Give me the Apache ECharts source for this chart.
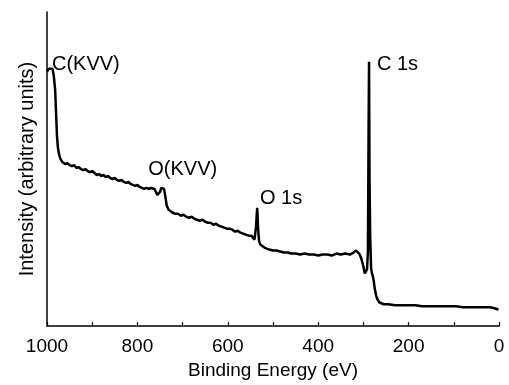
<!DOCTYPE html>
<html>
<head>
<meta charset="utf-8">
<script src="https://cdn.jsdelivr.net/npm/echarts@6/dist/echarts.min.js"></script>
<style>
html,body{margin:0;padding:0;background:#fff;}
#chart{width:509px;height:385px;}
</style>
</head>
<body>
<div id="chart"></div>
<script>
// Binding energy (eV)
const energy = [1000,996,992,988,985,982,980,978,976,973,970,966,960,955,950,945,940,935,930,925,920,915,910,905,900,895,890,885,880,875,870,865,860,855,850,845,840,835,830,825,820,815,810,805,800,795,790,785,780,775,770,766,762,759,756,753,750,747,744,741,738,735,731,727,722,716,710,704,698,692,686,680,674,668,662,656,650,644,638,632,626,620,614,608,602,596,590,584,578,572,566,560,554,548,544,541,539,537.5,536,535,534,533,531,528,524,519,514,508,500,492,484,476,468,460,450,440,430,420,410,400,390,380,370,360,350,340,330,322,316,312,308,304,300,297,295,292,290,288.5,287.5,286.5,285,283,281,279,277,275,272,269,265,260,255,245,230,215,200,185,170,155,140,125,110,95,80,65,50,35,20,10,4,1];
// Intensity (arbitrary units)
const intensity = [256,259,258,259,252,238,215,192,180,172,168,165,163,164,162,161,162,159,160,158,157,158,156,155,156,154,152,153,151,152,150,151,149,148,149,147,146,147,145,144,145,143,142,141,142,140,139,138,139,138,139,140,138,135,132,131,135,139,141,138,130,121,117,115,114,113,113,111,112,110,109,110,108,107,106,107,105,104,104,102,103,101,100,99,98,98,97,95,96,94,93,92,91,91,89,87,88,100,112,119,110,98,86,82,80,79,78,77,76,76,75,74,74,73,73,72,73,72,72,71,72,72,71,73,72,73,72,74,76,75,72,67,60,53,52,57,75,200,266,150,90,58,53,50,45,38,31,27,24,23,22,22,21,21,21,21,20,20,20,20,20,20,19,19,19,19,19,18,17,17];
// Peak annotations (label, energy, intensity anchor)
const peakLabels = ['C(KVV)','O(KVV)','O 1s','C 1s'];
const peakEnergy = [989, 776, 529, 270];
const peakIntensity = [263, 158, 128, 263];

const xTitle = 'Binding Energy (eV)';
const yTitle = 'Intensity (arbitrary units)';

const font = "'Liberation Sans', Arial, Helvetica, sans-serif";
const chart = echarts.init(document.getElementById('chart'), null, {renderer:'canvas'});
chart.setOption({
  animation:false,
  backgroundColor:'#fff',
  grid:{left:47,right:10,top:12,bottom:57,containLabel:false},
  xAxis:{
    type:'value', min:0, max:1000, interval:100, inverse:true,
    axisLine:{show:true,onZero:false,lineStyle:{color:'#000',width:1.5}},
    axisTick:{show:true,inside:true,length:4,lineStyle:{color:'#000',width:1.2}},
    axisLabel:{color:'#000',fontSize:19,fontFamily:font,margin:11,
      formatter:v=> (v%200===0 ? String(v) : '')},
    splitLine:{show:false},
    name:xTitle, nameLocation:'middle', nameGap:31,
    nameTextStyle:{color:'#000',fontSize:19,fontFamily:font}
  },
  yAxis:{
    type:'value', min:0, max:316, position:'left',
    axisLine:{show:true,onZero:false,lineStyle:{color:'#000',width:1.5}},
    axisTick:{show:false}, axisLabel:{show:false}, splitLine:{show:false},
    name:yTitle, nameLocation:'middle', nameGap:10,
    nameTextStyle:{color:'#000',fontSize:20,fontFamily:font}
  },
  series:[
    {type:'line', data:energy.map((e,i)=>[e,intensity[i]]), showSymbol:false, symbol:'none',
     lineStyle:{color:'#000',width:2.5}, z:3},
    {type:'scatter', symbolSize:0, silent:true,
     data:peakLabels.map((n,i)=>({name:n,value:[peakEnergy[i],peakIntensity[i]]})),
     label:{show:true,position:'right',distance:0,formatter:p=>p.name,color:'#000',opacity:1,
       fontSize:20,fontFamily:font,align:'left',verticalAlign:'middle'}}
  ]
});
</script>
</body>
</html>
